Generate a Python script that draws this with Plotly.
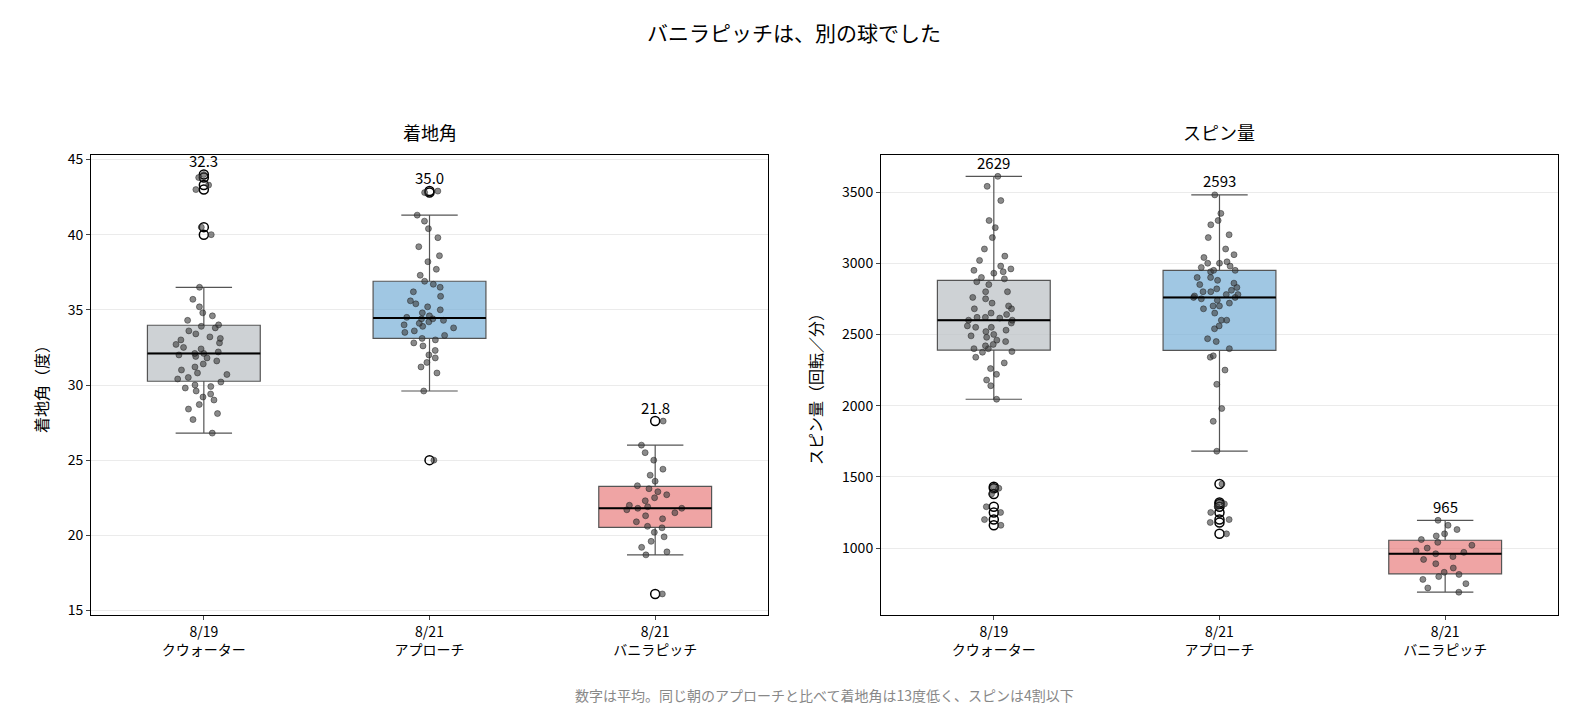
import plotly.graph_objects as go
from plotly.subplots import make_subplots
import numpy as np

categories = ["8/19<br>クウォーター", "8/21<br>アプローチ", "8/21<br>バニラピッチ"]
angle_quarter = [26.8,27.7,28.1,28.4,28.7,29.0,29.2,29.4,29.6,29.8,29.9,30.0,30.2,30.4,30.5,30.7,30.8,31.0,31.2,31.4,31.6,31.8,31.9,32.0,32.1,32.1,32.2,32.4,32.5,32.7,32.8,33.0,33.1,33.2,33.4,33.6,33.8,33.9,34.0,34.3,34.6,34.8,35.2,35.7,36.5,40.0,40.5,43.0,43.3,43.8,44.0]
angle_approach = [25.0,29.6,30.8,31.2,31.5,31.8,32.0,32.3,32.6,32.8,33.0,33.1,33.3,33.5,33.6,33.8,33.9,34.0,34.1,34.2,34.3,34.4,34.4,34.5,34.6,34.8,35.0,35.2,35.4,35.6,35.9,36.2,36.5,36.7,36.9,37.3,37.7,38.2,38.6,39.2,39.8,40.4,40.9,41.3,42.8,42.9]
angle_vanilla = [16.1,18.7,18.9,19.2,19.6,19.9,20.2,20.5,20.6,20.9,21.1,21.3,21.5,21.7,21.8,21.8,21.9,22.0,22.3,22.5,22.7,22.9,23.1,23.3,23.6,24.0,24.4,25.0,25.5,26.0,27.6]
spin_quarter = [1160,1200,1250,1290,1380,1420,1430,2045,2140,2180,2220,2260,2300,2340,2375,2380,2400,2400,2420,2430,2450,2460,2480,2490,2500,2520,2530,2550,2550,2560,2580,2600,2600,2615,2620,2620,2640,2650,2680,2680,2700,2720,2750,2760,2800,2800,2850,2870,2890,2900,2930,2940,2950,2960,2980,3020,3050,3100,3180,3250,3300,3440,3540,3610]
spin_approach = [1100,1180,1200,1250,1290,1310,1320,1450,1680,1890,1980,2150,2250,2340,2350,2400,2450,2470,2540,2560,2600,2600,2650,2680,2700,2700,2720,2740,2750,2760,2760,2770,2780,2780,2800,2800,2810,2820,2830,2850,2860,2880,2900,2900,2940,2950,2950,2970,2980,3000,3000,3010,3040,3060,3100,3180,3200,3270,3300,3350,3480]
spin_vanilla = [690,720,750,780,800,815,830,860,890,920,940,960,970,980,1000,1020,1040,1060,1085,1100,1130,1160,1195]
angle_means = ["32.3", "35.0", "21.8"]
spin_means = ["2629", "2593", "965"]

fills = ["rgba(189,195,199,0.75)", "rgba(120,175,215,0.7)", "rgba(232,125,125,0.7)"]
FONT = "Noto Sans CJK JP"

fig = make_subplots(rows=1, cols=2, subplot_titles=("着地角", "スピン量"), horizontal_spacing=0.077)
panels = [(angle_quarter, angle_approach, angle_vanilla), (spin_quarter, spin_approach, spin_vanilla)]
means = [angle_means, spin_means]
for c, data in enumerate(panels, start=1):
    for i, vals in enumerate(data):
        fig.add_trace(go.Box(y=vals, x=[i]*len(vals), width=0.5, whiskerwidth=0.5, quartilemethod="linear",
                             fillcolor=fills[i], line=dict(color="#555", width=1.2), boxpoints="outliers",
                             marker=dict(symbol="circle-open", color="black", size=9, line=dict(width=1.5)),
                             showlegend=False, hoverinfo="skip"), row=1, col=c)
        fig.add_trace(go.Box(y=vals, x=[i]*len(vals), width=0.5, boxpoints="all", jitter=0.55, pointpos=0,
                             fillcolor="rgba(0,0,0,0)", line=dict(color="rgba(0,0,0,0)", width=0),
                             marker=dict(color="rgba(60,60,60,0.6)", size=6, line=dict(color="rgba(30,30,30,0.6)", width=0.8)),
                             showlegend=False, hoverinfo="skip"), row=1, col=c)
        med = float(np.median(vals))
        xr = "x" if c == 1 else "x2"
        yr = "y" if c == 1 else "y2"
        fig.add_shape(type="line", x0=i-0.25, x1=i+0.25, y0=med, y1=med, xref=xr, yref=yr,
                      line=dict(color="black", width=2))
        fig.add_annotation(x=i, y=max(vals), xref=xr, yref=yr, text=means[c-1][i], showarrow=False,
                           yshift=14, font=dict(size=15, color="black"))

axstyle = dict(showline=True, linecolor="black", mirror=True, ticks="outside", ticklen=4, zeroline=False)
for c in (1, 2):
    fig.update_xaxes(tickvals=[0, 1, 2], ticktext=categories, range=[-0.5, 2.5], showgrid=False,
                     tickfont=dict(size=14), **axstyle, row=1, col=c)
fig.update_yaxes(range=[14.7, 45.3], dtick=5, showgrid=True, gridcolor="#ebebeb",
                 title=dict(text="着地角（度）", font=dict(size=16)), tickfont=dict(size=14), **axstyle, row=1, col=1)
fig.update_yaxes(range=[530, 3760], tickvals=[1000,1500,2000,2500,3000,3500], showgrid=True, gridcolor="#ebebeb",
                 title=dict(text="スピン量（回転／分）", font=dict(size=16)), tickfont=dict(size=14), **axstyle, row=1, col=2)
for a in fig.layout.annotations[:2]:
    a.font = dict(size=18, color="black")
    a.yshift = 8
fig.add_annotation(text="数字は平均。同じ朝のアプローチと比べて着地角は13度低く、スピンは4割以下", xref="paper", yref="paper",
                   x=0.5, y=-0.2, showarrow=False, font=dict(size=14, color="#888"))
fig.update_layout(width=1572, height=728, boxmode="overlay", plot_bgcolor="white", paper_bgcolor="white",
                  font=dict(family=FONT, color="black"),
                  title=dict(text="バニラピッチは、別の球でした", x=0.5, y=0.975, font=dict(size=21)),
                  margin=dict(l=83, r=22, t=147, b=121))
fig.write_html("out.html")
